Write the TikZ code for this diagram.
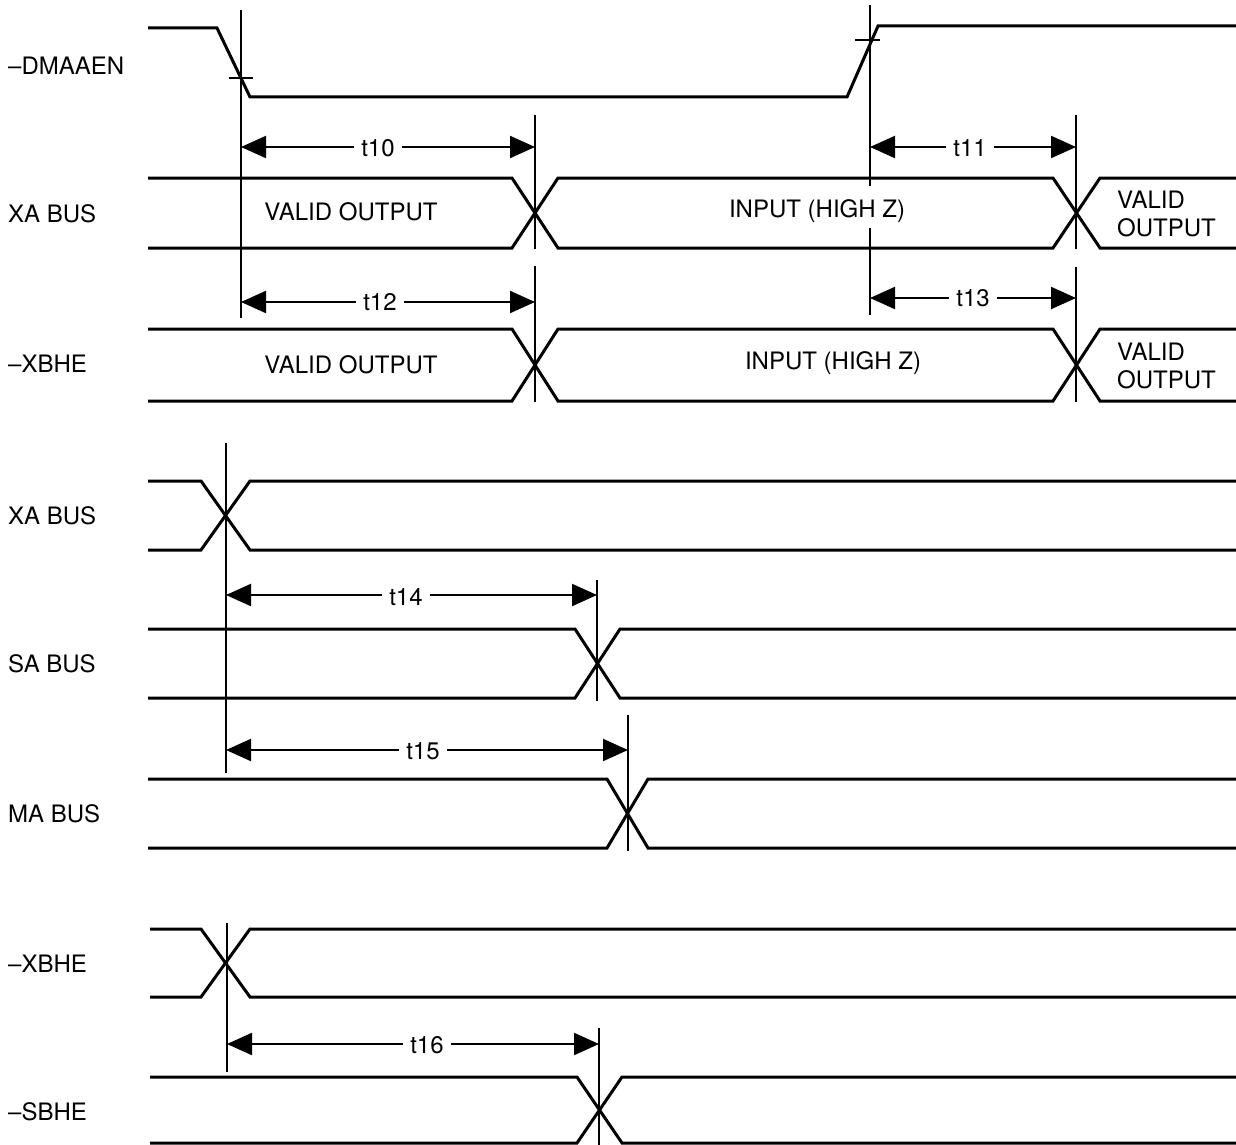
\documentclass[tikz,border=0pt]{standalone}
\usepackage{fontspec}
\setmainfont{TeX Gyre Heros}
\usetikzlibrary{arrows.meta}
\begin{document}
\begin{tikzpicture}[x=1pt,y=-1pt,
  wave/.style={line width=3pt, line join=miter},
  refline/.style={line width=2pt},
  dim/.style={line width=2.2pt, {Triangle[length=25pt,width=22pt]}-{Triangle[length=25pt,width=22pt]}},
  sig/.style={font=\fontsize{24}{28}\selectfont, anchor=west, inner sep=0pt},
  txt/.style={font=\fontsize{24}{28}\selectfont, inner sep=0pt},
  two/.style={font=\fontsize{24}{28}\selectfont, anchor=west, inner sep=0pt, align=left},
  tlab/.style={font=\fontsize{24}{28}\selectfont, fill=white, inner xsep=7pt, inner ysep=1pt}]
\useasboundingbox[fill=white] (0,0) rectangle (1236,1145);

% ---------- signal names ----------
\node[sig] (n1) at (8,66) {–DMAAEN};
\node[sig] (n2) at (8,214) {XA BUS};
\node[sig] (n3) at (8,364) {–XBHE};
\node[sig] (n4) at (8,516) {XA BUS};
\node[sig] (n5) at (8,664) {SA BUS};
\node[sig] (n6) at (8,814) {MA BUS};
\node[sig] (n7) at (8,964) {–XBHE};
\node[sig] (n8) at (8,1112) {–SBHE};

% ---------- reference lines ----------
\draw[refline] (241,10) -- (241,318);
\draw[refline] (870,5) -- (870,186);
\draw[refline] (870,228) -- (870,315);
\draw[refline] (535,115) -- (535,249);
\draw[refline] (535,266) -- (535,402);
\draw[refline] (1076,115) -- (1076,249);
\draw[refline] (1076,267) -- (1076,402);
\draw[refline] (226,443) -- (226,773);
\draw[refline] (597,580) -- (597,701);
\draw[refline] (628,715) -- (628,851);
\draw[refline] (227,923) -- (227,1072);
\draw[refline] (599,1028) -- (599,1145);

% ---------- -DMAAEN ----------
\draw[wave] (148,28) -- (217,28) -- (250,97) -- (847,97) -- (878,26) -- (1236,26);
\draw[refline] (229,78) -- (253,78);
\draw[refline] (855,40) -- (880,40);

% ---------- XA BUS (1) ----------
\draw[wave] (148,178) -- (512,178) -- (558,248) -- (1053,248) -- (1100,178) -- (1236,178);
\draw[wave] (148,248) -- (512,248) -- (558,178) -- (1053,178) -- (1100,248) -- (1236,248);
\node[txt] (v1) at (351,212) {VALID OUTPUT};
\node[txt] (i1) at (817,211) {INPUT (HIGH Z)};
\node[two] (o1) at (1117,214) {VALID\\OUTPUT};

% ---------- -XBHE (1) ----------
\draw[wave] (148,329) -- (512,329) -- (558,401) -- (1053,401) -- (1100,329) -- (1236,329);
\draw[wave] (148,401) -- (512,401) -- (558,329) -- (1053,329) -- (1100,401) -- (1236,401);
\node[txt] (v2) at (351,365) {VALID OUTPUT};
\node[txt] (i2) at (833,363) {INPUT (HIGH Z)};
\node[two] (o2) at (1117,366) {VALID\\OUTPUT};

% ---------- XA BUS (2) ----------
\draw[wave] (148,481) -- (201,481) -- (250,550) -- (1236,550);
\draw[wave] (148,550) -- (201,550) -- (250,481) -- (1236,481);

% ---------- SA BUS ----------
\draw[wave] (148,629) -- (575,629) -- (620,698) -- (1236,698);
\draw[wave] (148,698) -- (575,698) -- (620,629) -- (1236,629);

% ---------- MA BUS ----------
\draw[wave] (148,779) -- (607,779) -- (648,848) -- (1236,848);
\draw[wave] (148,848) -- (607,848) -- (648,779) -- (1236,779);

% ---------- -XBHE (2) ----------
\draw[wave] (150,929) -- (201,929) -- (250,997) -- (1236,997);
\draw[wave] (150,997) -- (201,997) -- (250,929) -- (1236,929);

% ---------- -SBHE ----------
\draw[wave] (150,1077) -- (577,1077) -- (622,1143) -- (1236,1143);
\draw[wave] (150,1143) -- (577,1143) -- (622,1077) -- (1236,1077);

% ---------- timing arrows ----------
\coordinate (t10a) at (241,147);  \coordinate (t10b) at (535,147);
\coordinate (t11a) at (870,147);  \coordinate (t11b) at (1076,147);
\coordinate (t12a) at (241,302);  \coordinate (t12b) at (535,302);
\coordinate (t13a) at (870,298);  \coordinate (t13b) at (1076,298);
\coordinate (t14a) at (226,595);  \coordinate (t14b) at (597,595);
\coordinate (t15a) at (226,750);  \coordinate (t15b) at (628,750);
\coordinate (t16a) at (227,1044); \coordinate (t16b) at (599,1044);
\draw[dim] (t10a) -- (t10b);
\draw[dim] (t11a) -- (t11b);
\draw[dim] (t12a) -- (t12b);
\draw[dim] (t13a) -- (t13b);
\draw[dim] (t14a) -- (t14b);
\draw[dim] (t15a) -- (t15b);
\draw[dim] (t16a) -- (t16b);
\node[tlab] (l10) at (378,148) {t10};
\node[tlab] (l11) at (970,148) {t11};
\node[tlab] (l12) at (380,302) {t12};
\node[tlab] (l13) at (973,298) {t13};
\node[tlab] (l14) at (406,597) {t14};
\node[tlab] (l15) at (423,751) {t15};
\node[tlab] (l16) at (427,1045) {t16};
\end{tikzpicture}
\end{document}
